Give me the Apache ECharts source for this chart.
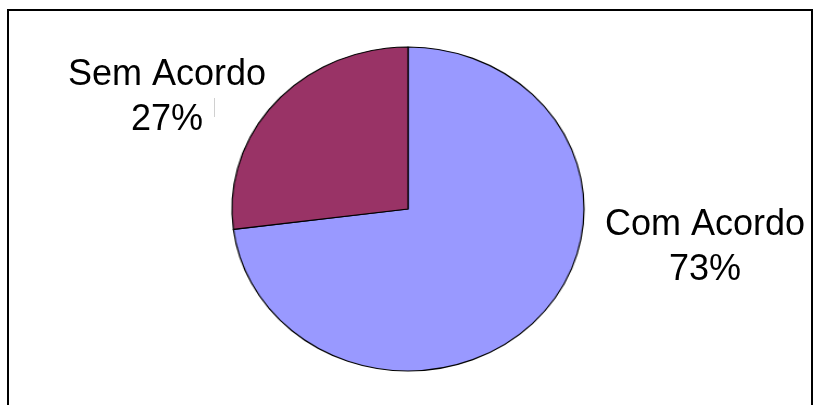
<!DOCTYPE html>
<html>
<head>
<meta charset="utf-8">
<script src="https://cdn.jsdelivr.net/npm/echarts@6/dist/echarts.min.js"></script>
<style>
html,body{margin:0;padding:0;background:#fff;}
#wrap{position:relative;width:815px;height:405px;overflow:hidden;background:#fff;}
#pie{position:absolute;left:0;top:0;width:815px;height:405px;transform:scaleX(1.0864);transform-origin:408px 0;}
#overlay{position:absolute;left:0;top:0;width:815px;height:405px;}
</style>
</head>
<body>
<div id="wrap">
  <div id="pie"></div>
  <div id="overlay"></div>
</div>
<script>
const categories = ['Com Acordo', 'Sem Acordo'];
const values = [73, 27];
const colors = ['#9999FF', '#993366'];

const labelPos = [
  { x: 705, y: 248 },
  { x: 167, y: 98 }
];

// Pie (drawn as a circle, then stretched horizontally to the reference's ellipse)
const pieChart = echarts.init(document.getElementById('pie'), null, { renderer: 'canvas' });
pieChart.setOption({
  animation: false,
  series: [{
    type: 'pie',
    center: [408, 209],
    radius: 162,
    startAngle: 90,
    clockwise: true,
    itemStyle: { borderColor: '#000', borderWidth: 1.2 },
    emphasis: { disabled: true },
    label: { show: false },
    labelLine: { show: false },
    data: categories.map((c, i) => ({ name: c, value: values[i], itemStyle: { color: colors[i] } }))
  }]
});

// Overlay: frame and labels
const overlay = echarts.init(document.getElementById('overlay'), null, { renderer: 'canvas' });
const total = values.reduce((a, b) => a + b, 0);
overlay.setOption({
  animation: false,
  graphic: [
    {
      type: 'rect',
      shape: { x: 8, y: 10, width: 804, height: 420 },
      style: { fill: 'none', stroke: '#000', lineWidth: 2 },
      silent: true
    },
    {
      type: 'line',
      shape: { x1: 214.5, y1: 98, x2: 214.5, y2: 117 },
      style: { stroke: '#d0d0d0', lineWidth: 1 },
      silent: true
    }
  ].concat(categories.map((c, i) => ({
    type: 'text',
    x: labelPos[i].x,
    y: labelPos[i].y,
    silent: true,
    style: {
      text: c + '\n' + Math.round(values[i] / total * 100) + '%',
      fontFamily: 'Liberation Sans, Arial, sans-serif',
      fontSize: 36,
      lineHeight: 45,
      fill: '#000',
      align: 'center',
      verticalAlign: 'middle'
    }
  })))
});
</script>
</body>
</html>
